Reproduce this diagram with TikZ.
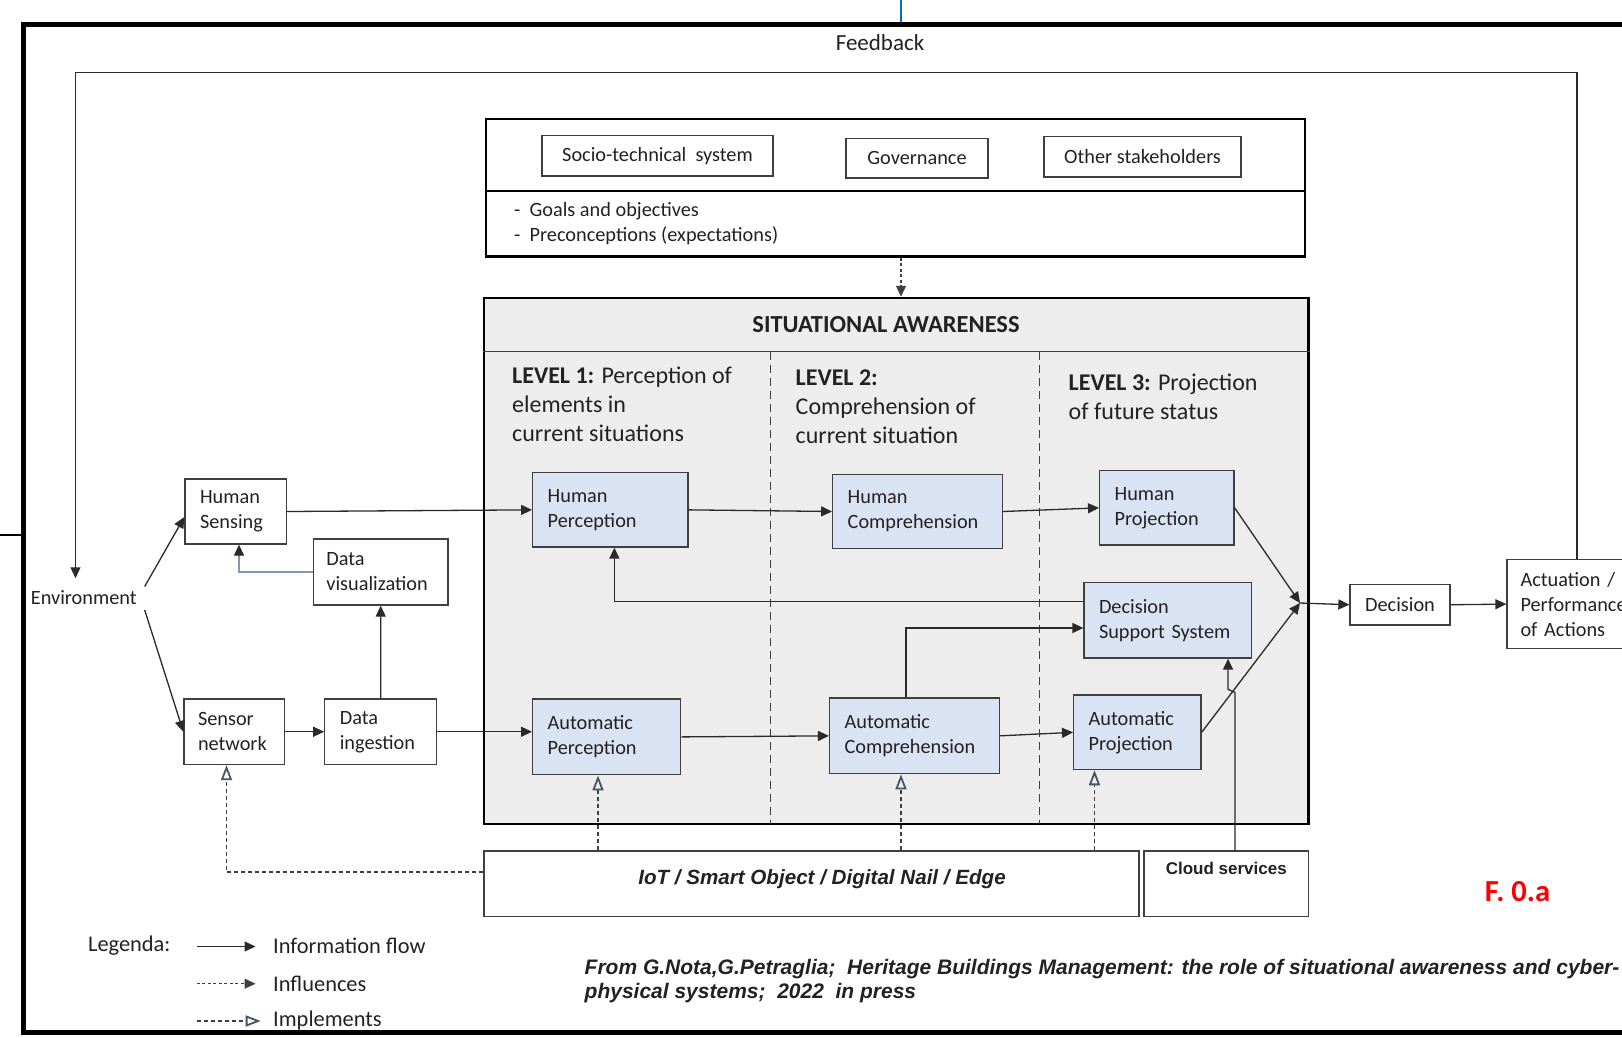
\documentclass[tikz,border=0pt]{standalone}
\usepackage{fontspec}
\setmainfont{Carlito}
\newfontfamily\notesans{Liberation Sans}
\usetikzlibrary{arrows.meta}

\definecolor{saGrey}{HTML}{EDEDED}
\definecolor{boxBlue}{HTML}{DAE3F3}
\definecolor{edgeGrey}{HTML}{3F3F3F}
\definecolor{flowGrey}{HTML}{2A2A2A}
\definecolor{implBlue}{HTML}{44546A}
\definecolor{vizLine}{HTML}{8496B0}
\definecolor{txt}{HTML}{222222}
\definecolor{figRed}{HTML}{FF0000}
\definecolor{markBlue}{HTML}{0070C0}

\newcommand\bxfont{\fontsize{20.3}{25}\selectfont}
\newcommand\lvfont{\fontsize{24}{29}\selectfont}
\newcommand\lgfont{\fontsize{22.4}{27}\selectfont}
\newcommand\ctfont{\notesans\bfseries\itshape\fontsize{21}{24}\selectfont}

\begin{document}
\begin{tikzpicture}[x=1pt,y=-1pt,
  every node/.style={text=txt},
  plainbox/.style={draw=edgeGrey, line width=1.3pt, fill=white, inner ysep=0pt,
    inner xsep=15pt, font=\bxfont, align=left},
  sabox/.style={plainbox, fill=boxBlue},
  stakebox/.style={draw=edgeGrey, line width=1.3pt, fill=white, inner sep=0pt,
    font=\bxfont, align=center},
  lvltext/.style={anchor=north west, inner sep=0pt, align=left, font=\lvfont},
  flow/.style={draw=flowGrey, line width=1.3pt,
    -{Triangle[length=11pt,width=10pt,color=flowGrey]}},
  infl/.style={draw=edgeGrey, line width=1.2pt, dash pattern=on 3pt off 2.5pt,
    -{Triangle[length=11pt,width=10pt]}},
  impl/.style={draw=edgeGrey, line width=1.2pt, dash pattern=on 4pt off 3pt,
    -{Triangle[open,length=15pt,width=11pt,color=implBlue,line width=1.8pt]}},
  colsep/.style={draw=edgeGrey, line width=1.2pt, dash pattern=on 8pt off 5pt},
]
\useasboundingbox (0,0) rectangle (1622,1037);
\clip (0,0) rectangle (1622,1037);
\fill[white] (0,0) rectangle (1622,1037);

% marks at the page edge and the heavy outer frame
\draw[markBlue, line width=1.5pt] (901,0) -- (901,22);
\draw[black, line width=1.5pt] (0,535) -- (22,535);
\draw[black, line width=5pt] (1700,24.3) -| (23.5,1032) -- (1700,1032);

\node[font=\fontsize{23}{28}\selectfont] (fb) at (880,43) {Feedback};

% context box: actors and their goals
\node[draw=black, line width=2.2pt, fill=white, minimum width=819pt,
      minimum height=137.5pt, inner sep=0pt] (ctx) at (895.5,187.75) {};
\draw[black, line width=1.5pt] (ctx.west |- 0,191) -- (ctx.east |- 0,191);
\node[stakebox, minimum width=231pt, minimum height=40.5pt] (sts) at (657.5,155.75) {Socio-technical\ \ system};
\node[stakebox, minimum width=142pt, minimum height=39.4pt] (gov) at (917,158.3) {Governance};
\node[stakebox, minimum width=197pt, minimum height=40.5pt] (oth) at (1142.5,156.75) {Other stakeholders};
\node[anchor=north west, inner sep=0pt, align=left, font=\bxfont] (goals) at (514,202)
  {-\ \ Goals and objectives\\-\ \ Preconceptions (expectations)};

% situational awareness frame
\node[draw=black, line width=2.5pt, fill=saGrey, minimum width=824.5pt,
      minimum height=526pt, inner sep=0pt] (sa) at (896.25,561) {};
\draw[edgeGrey, line width=1.5pt] (sa.west |- 0,351.7) -- (sa.east |- 0,351.7);
\draw[colsep] (770.6,351.7) -- (770.6,824);
\draw[colsep] (1039.6,351.7) -- (1039.6,824);
\node[font=\bfseries\fontsize{24.5}{29}\selectfont] (satitle) at (886,325) {SITUATIONAL AWARENESS};

\node[lvltext] (lv1) at (512,367) {\textbf{LEVEL 1:} Perception of\\elements in\\current situations};
\node[lvltext] (lv2) at (795.5,370) {\textbf{LEVEL 2:}\\Comprehension of\\current situation};
\node[lvltext] (lv3) at (1068.5,374) {\textbf{LEVEL 3:} Projection\\of future status};

% processing blocks
\node[sabox, text width=125.3pt, minimum height=74.3pt] (hp) at (610.35,509.85) {Human\\Perception};
\node[sabox, text width=139.7pt, minimum height=73.4pt] (hc) at (917.55,511.5) {Human\\Comprehension};
\node[sabox, text width=104.4pt, minimum height=74.3pt] (hj) at (1166.8,507.85) {Human\\Projection};
\node[sabox, text width=137.6pt, minimum height=75.6pt] (dss) at (1167.8,620.2) {Decision\\Support System};
\node[sabox, text width=117.9pt, minimum height=75.8pt] (ap) at (606.65,736.9) {Automatic\\Perception};
\node[sabox, text width=139.6pt, minimum height=75.7pt] (ac) at (914.4,735.85) {Automatic\\Comprehension};
\node[sabox, text width=97.3pt, minimum height=74.6pt] (aj) at (1137.35,732.3) {Automatic\\Projection};

% environment side
\node[inner sep=0pt, font=\bxfont] (env) at (83.8,598) {Environment};
\node[plainbox, text width=71.5pt, minimum height=65pt] (hs) at (235.75,511.5) {Human\\Sensing};
\node[plainbox, inner xsep=13pt, text width=108.6pt, minimum height=66pt] (dv) at (380.7,572) {Data\\visualization};
\node[plainbox, inner xsep=14pt, text width=72.5pt, minimum height=65.5pt] (sn) at (234.25,731.75) {Sensor\\network};
\node[plainbox, text width=81.7pt, minimum height=65.5pt] (di) at (380.65,731.75) {Data\\ingestion};

% decision and action
\node[plainbox, align=center, text width=70pt, minimum height=40.5pt] (dec) at (1400,604.75) {Decision};
\node[plainbox, inner xsep=13.5pt, text width=113pt, minimum height=89pt] (act) at (1577,604.1) {Actuation /\\Performance\\of Actions};

% platforms
\node[draw=edgeGrey, line width=1.3pt, fill=white, minimum width=655pt, minimum height=65.5pt,
      inner sep=0pt,
      label={[inner sep=0pt, shift={(10.5,-4.75)}, font=\notesans\bfseries\itshape\fontsize{20.6}{25}\selectfont]center:IoT / Smart Object / Digital Nail / Edge}]
      (iot) at (811.5,883.75) {};
\node[draw=edgeGrey, line width=1.3pt, fill=white, minimum width=164.5pt, minimum height=65.5pt,
      inner sep=0pt,
      label={[inner sep=0pt, anchor=north, yshift=-12pt, font=\notesans\bfseries\fontsize{17}{21}\selectfont]north:Cloud services}]
      (cloud) at (1226.25,883.75) {};

% information flow
\draw[flow] ([shift={(7.8,-11.5)}]env.east) -- ([shift={(0,5.5)}]hs.west);
\draw[flow] ([shift={(7.8,12)}]env.east) -- (sn.west);
\draw[flow] (hs.east) -- (hp.west);
\draw[flow, draw=vizLine] (dv.west) -| ([shift={(3.25,0)}]hs.south);
\draw[flow] (sn.east) -- (di.west);
\draw[flow] (di.north) -- (dv.south);
\draw[flow] (di.east) -- (di.east -| ap.west);
\draw[flow] (hp.east) -- (hc.west);
\draw[flow] (hc.east) -- (hj.west);
\draw[flow] (ap.east) -- (ac.west);
\draw[flow] (ac.east) -- (aj.west);
\draw[flow] ([shift={(-8.4,0)}]ac.north) |- ([shift={(0,7.8)}]dss.west);
\draw[flow] ([shift={(0,-19)}]dss.west) -| ([shift={(4,0)}]hp.south);
\coordinate (m) at (1300,603);
\draw[flow] (hj.east) -- (m);
\draw[flow] (aj.east) -- (m);
\draw[flow] (m) -- (dec.west);
\draw[flow] (dec.east) -- (act.west);
\draw[flow] ([shift={(8.75,0)}]cloud.north) -- ++(0,-158) -- ++(-7,-3) -- ([shift={(60.2,0)}]dss.south);
\coordinate (fbL) at (75.5,72.4);
\draw[flow] (act.north) |- (fbL) -- ([shift={(-8.3,-12.5)}]env.north);

% influences
\draw[infl] ([shift={(5.5,0)}]ctx.south) -- ([shift={(4.75,0)}]sa.north);

% implementations
\coordinate (apIn) at ([shift={(-8.65,0)}]ap.south);
\coordinate (acIn) at ([shift={(-13.4,0)}]ac.south);
\coordinate (ajIn) at ([shift={(-42.85,0)}]aj.south);
\coordinate (snIn) at ([shift={(-7.75,0)}]sn.south);
\draw[impl] (apIn |- iot.north) -- (apIn);
\draw[impl] (acIn |- iot.north) -- (acIn);
\draw[impl] (ajIn |- iot.north) -- (ajIn);
\draw[impl] ([shift={(0,-11.75)}]iot.west) -| (snIn);

% legend
\node[font=\lgfont] (lgd) at (129.3,945.5) {Legenda:};
\coordinate (lg1a) at (196.5,946.5);  \coordinate (lg1b) at (255.5,946.5);
\coordinate (lg2a) at (196.5,983.7);  \coordinate (lg2b) at (255.5,983.7);
\coordinate (lg3a) at (196.5,1021);   \coordinate (lg3b) at (260.7,1021);
\draw[flow] (lg1a) -- (lg1b);
\draw[infl] (lg2a) -- (lg2b);
\draw[impl] (lg3a) -- (lg3b);
\node[anchor=west, inner sep=0pt, font=\lgfont] (lgt1) at (273,946) {Information flow};
\node[anchor=west, inner sep=0pt, font=\lgfont] (lgt2) at (273,983.7) {Influences};
\node[anchor=west, inner sep=0pt, font=\lgfont] (lgt3) at (273,1021) {Implements};

% source note and figure tag
\node[anchor=west, inner sep=0pt, font=\ctfont] (cite1) at (584.5,969)
  {From G.Nota,G.Petraglia;\ \ Heritage Buildings Management: the role of situational awareness and cyber-};
\node[anchor=west, inner sep=0pt, font=\ctfont] (cite2) at (584.5,993)
  {physical systems;\ \ 2022\ \ in press};
\node[font=\bfseries\fontsize{30.6}{36}\selectfont, text=figRed] (tag) at (1517.5,891.6) {F. 0.a};
\end{tikzpicture}
\end{document}
